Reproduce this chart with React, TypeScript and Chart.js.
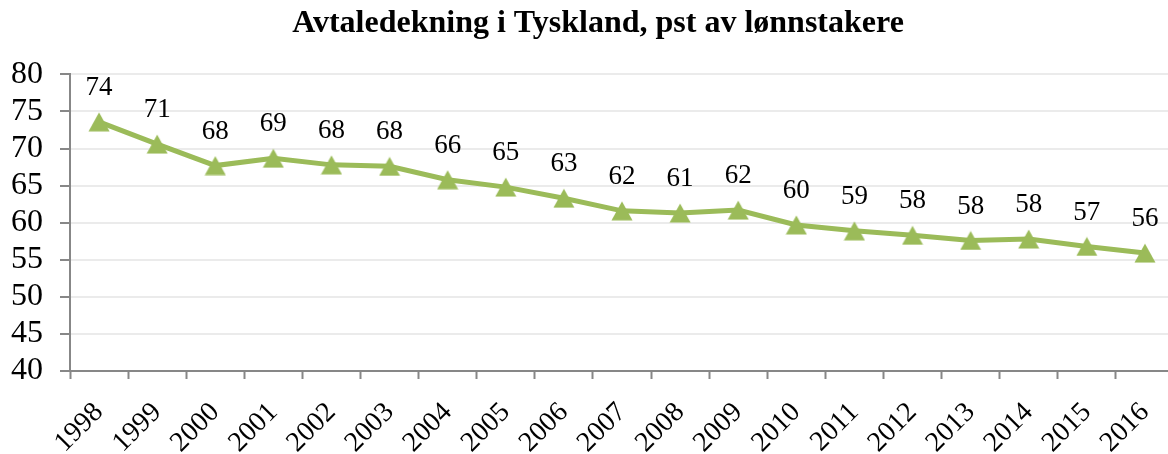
import React, { useEffect, useRef } from "react";
import { Chart, registerables } from "chart.js";

Chart.register(...registerables);

const TITLE = "Avtaledekning i Tyskland, pst av lønnstakere";
const YEARS = [
  "1998", "1999", "2000", "2001", "2002", "2003", "2004", "2005", "2006", "2007",
  "2008", "2009", "2010", "2011", "2012", "2013", "2014", "2015", "2016",
];
const COVERAGE = [
  73.6, 70.6, 67.7, 68.7, 67.8, 67.6, 65.8, 64.8, 63.3, 61.6,
  61.3, 61.7, 59.7, 58.9, 58.3, 57.6, 57.8, 56.8, 55.9,
];
const Y_MIN = 40;
const Y_MAX = 80;
const Y_STEP = 5;

const GREEN = "#9BBB59";
const AXIS = "#878787";
const FONT = "'Liberation Serif', 'Times New Roman', serif";

function makeMarker(): HTMLCanvasElement {
  const w = 22;
  const h = 20;
  const c = document.createElement("canvas");
  c.width = w;
  c.height = h;
  const g = c.getContext("2d") as CanvasRenderingContext2D;
  g.fillStyle = GREEN;
  g.beginPath();
  g.moveTo(w / 2, 0.5);
  g.lineTo(w - 0.5, h - 0.5);
  g.lineTo(0.5, h - 0.5);
  g.closePath();
  g.fill();
  return c;
}

const valueLabels = {
  id: "valueLabels",
  afterDatasetsDraw(chart: any) {
    const ctx = chart.ctx;
    const meta = chart.getDatasetMeta(0);
    const data = chart.data.datasets[0].data as number[];
    ctx.save();
    ctx.font = `27px ${FONT}`;
    ctx.fillStyle = "#000";
    ctx.textAlign = "center";
    ctx.textBaseline = "middle";
    meta.data.forEach((pt: any, i: number) => {
      ctx.fillText(String(Math.round(data[i])), pt.x, pt.y - 34);
    });
    ctx.restore();
  },
};

export default function App() {
  const ref = useRef<HTMLCanvasElement | null>(null);
  useEffect(() => {
    document.body.style.margin = "0";
    const marker = makeMarker();
    const chart = new Chart(ref.current as HTMLCanvasElement, {
      type: "line",
      data: {
        labels: YEARS,
        datasets: [
          {
            data: COVERAGE,
            borderColor: GREEN,
            backgroundColor: GREEN,
            borderWidth: 5,
            pointStyle: marker as any,
            pointRadius: 11,
            tension: 0,
            yAxisID: "y",
          },
        ],
      },
      options: {
        animation: false,
        responsive: false,
        layout: { padding: 0 },
        plugins: {
          legend: { display: false },
          tooltip: { enabled: false },
          title: {
            display: true,
            text: TITLE,
            color: "#000",
            font: { family: FONT, size: 32, weight: "bold", lineHeight: 1.2 },
            padding: { top: 5, bottom: 31 },
          },
        },
        scales: {
          x: {
            type: "category",
            offset: true,
            grid: {
              offset: true,
              drawOnChartArea: false,
              drawTicks: true,
              tickLength: 8,
              tickColor: AXIS,
              tickWidth: 2,
            },
            border: { color: AXIS, width: 2 },
            ticks: {
              color: "#000",
              font: { family: FONT, size: 28 },
              maxRotation: 45,
              minRotation: 45,
              autoSkip: false,
              padding: 17,
            },
            afterFit(scale: any) {
              scale.height = 83;
            },
          },
          y: {
            position: "left",
            min: Y_MIN,
            max: Y_MAX,
            ticks: {
              stepSize: Y_STEP,
              autoSkip: false,
              color: "#000",
              font: { family: FONT, size: 32 },
              padding: 17,
            },
            grid: {
              color: "#ebebeb",
              lineWidth: 2,
              drawTicks: true,
              tickLength: 10,
              tickColor: AXIS,
              tickWidth: 2,
            },
            border: { color: AXIS, width: 2 },
            afterFit(scale: any) {
              scale.width = 70;
            },
          },
          yRightSpace: {
            position: "right",
            display: true,
            min: Y_MIN,
            max: Y_MAX,
            grid: { display: false, drawTicks: false },
            border: { display: false },
            ticks: { display: false },
            afterFit(scale: any) {
              scale.width = 22;
            },
          },
        },
      },
      plugins: [valueLabels],
    });
    return () => chart.destroy();
  }, []);
  return (
    <div style={{ position: "fixed", left: 0, top: 0, width: 1168, height: 454, overflow: "hidden", background: "#fff" }}>
      <canvas ref={ref} width={1196} height={454} style={{ display: "block" }} />
    </div>
  );
}
